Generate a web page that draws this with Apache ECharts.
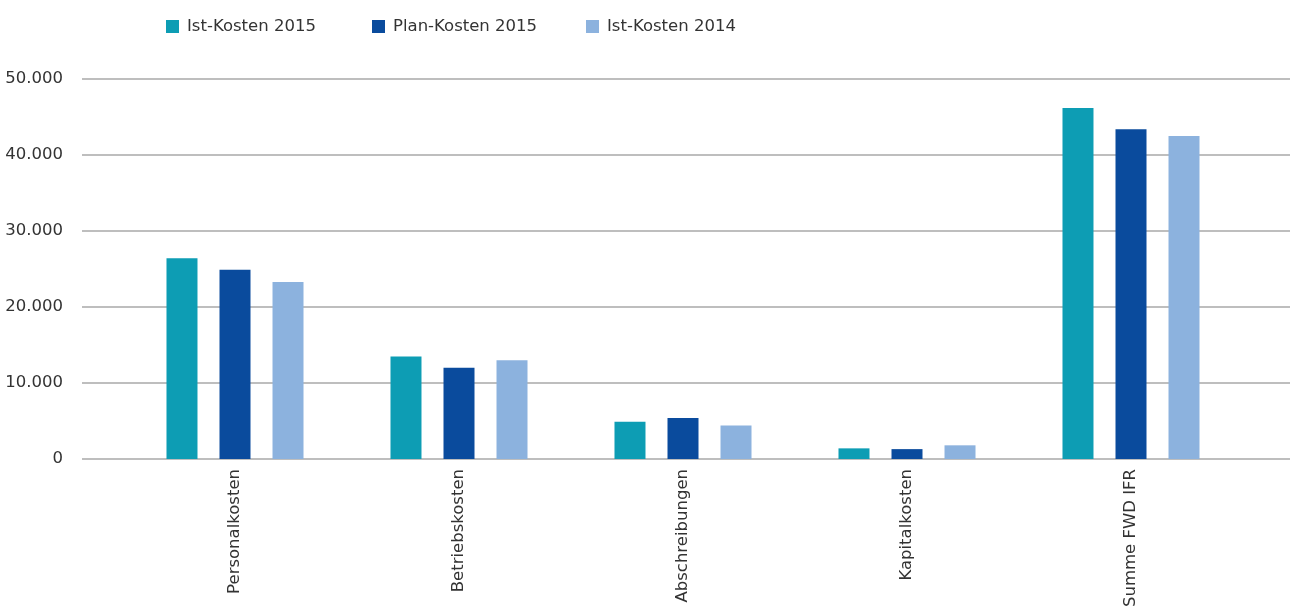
<!DOCTYPE html>
<html>
<head>
<meta charset="utf-8">
<script src="https://cdn.jsdelivr.net/npm/echarts@6/dist/echarts.min.js"></script>
<style>
  html, body { margin: 0; padding: 0; background: #fff; }
  #chart { width: 1291px; height: 606px; }
</style>
</head>
<body>
<div id="chart"></div>
<script>
// Kostenarten (in Tsd. EUR)
const categories = ['Personalkosten', 'Betriebskosten', 'Abschreibungen', 'Kapitalkosten', 'Summe FWD IFR'];
const seriesNames = ['Ist-Kosten 2015', 'Plan-Kosten 2015', 'Ist-Kosten 2014'];
const istKosten2015 = [26400, 13500, 4900, 1400, 46200];
const planKosten2015 = [24900, 12000, 5400, 1300, 43400];
const istKosten2014 = [23300, 13000, 4400, 1800, 42500];
const yTicks = { min: 0, max: 50000, interval: 10000 };

const colors = ['#0d9db4', '#0a4b9d', '#8cb2de'];
const font = 'DejaVu Sans';
const fontSize = 16.5;

function fmt(v) {
  return String(v).replace(/\B(?=(\d{3})+(?!\d))/g, '.');
}

const chart = echarts.init(document.getElementById('chart'), null, { renderer: 'canvas' });

// one legend block per series, placed side by side
const legendLefts = [161, 367, 581];
const legends = seriesNames.map((name, i) => ({
  data: [name],
  left: legendLefts[i],
  top: 13,
  itemWidth: 13,
  itemHeight: 13,
  itemGap: 0,
  icon: 'rect',
  textStyle: { fontFamily: font, fontSize: fontSize, color: '#333', padding: [0, 0, 0, 3] }
}));

chart.setOption({
  animation: false,
  backgroundColor: '#fff',
  color: colors,
  legend: legends,
  grid: [
    // bars
    { left: 123, right: 48, top: 79, bottom: 147, outerBoundsMode: 'none', containLabel: false },
    // full-width value scale with grid lines
    { left: 82, right: 1, top: 79, bottom: 147, outerBoundsMode: 'none', containLabel: false }
  ],
  xAxis: [
    {
      type: 'category',
      gridIndex: 0,
      data: categories,
      axisLine: { show: false },
      axisTick: { show: false },
      axisLabel: {
        rotate: 90,
        margin: 10,
        fontFamily: font,
        fontSize: fontSize,
        color: '#333'
      }
    },
    { type: 'value', gridIndex: 1, show: false }
  ],
  yAxis: [
    {
      type: 'value',
      gridIndex: 0,
      min: yTicks.min, max: yTicks.max, interval: yTicks.interval,
      show: false
    },
    {
      type: 'value',
      gridIndex: 1,
      min: yTicks.min, max: yTicks.max, interval: yTicks.interval,
      axisLine: { show: false },
      axisTick: { show: false },
      axisLabel: {
        margin: 19,
        fontFamily: font,
        fontSize: fontSize,
        color: '#333',
        formatter: fmt
      },
      splitLine: { show: true, lineStyle: { color: '#a9a9a9', width: 1.5 } }
    }
  ],
  series: [istKosten2015, planKosten2015, istKosten2014].map((d, i) => ({
    name: seriesNames[i],
    type: 'bar',
    xAxisIndex: 0,
    yAxisIndex: 0,
    data: d,
    barWidth: 31,
    barGap: '71%',
    z: 3
  }))
});
</script>
</body>
</html>
